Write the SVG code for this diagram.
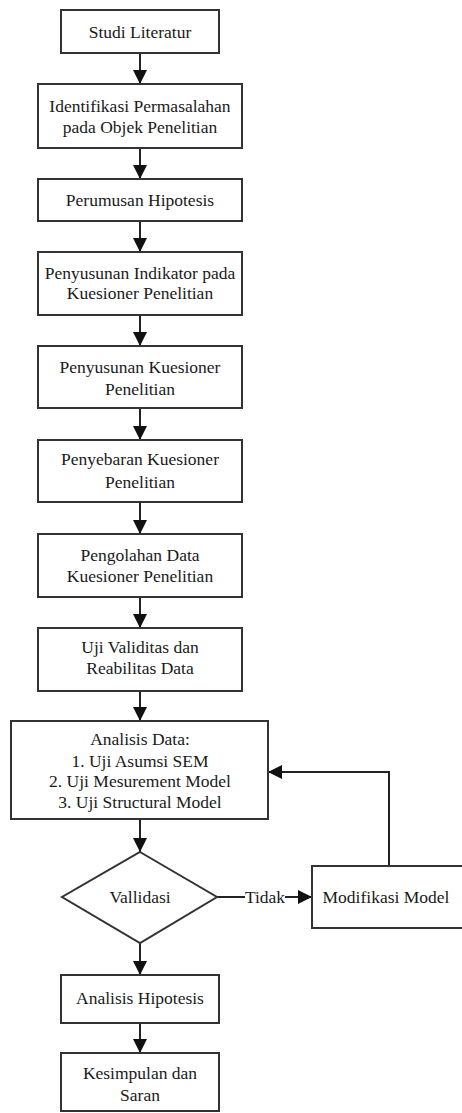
<svg xmlns="http://www.w3.org/2000/svg" width="462" height="1113" viewBox="0 0 462 1113">
<style>
.box{fill:#fff;stroke:#333;stroke-width:2}
.t{font-family:'Liberation Serif','Times New Roman','DejaVu Serif',serif;font-size:17.5px;fill:#1a1a1a;text-anchor:middle}
.c{fill:none;stroke:#222;stroke-width:2}
</style>
<defs>
<marker id="ah" markerUnits="userSpaceOnUse" markerWidth="14" markerHeight="16" viewBox="0 0 14 16" refX="14" refY="8" orient="auto">
<path d="M0,1 L14,8 L0,15 Z" fill="#111"/>
</marker>
</defs>
<rect width="462" height="1113" fill="#fff"/>
<g id="connectors">
<line class="c" x1="140" y1="53" x2="140" y2="84" marker-end="url(#ah)"/>
<line class="c" x1="140" y1="148" x2="140" y2="179" marker-end="url(#ah)"/>
<line class="c" x1="140" y1="221" x2="140" y2="252" marker-end="url(#ah)"/>
<line class="c" x1="140" y1="315" x2="140" y2="346" marker-end="url(#ah)"/>
<line class="c" x1="140" y1="408" x2="140" y2="440" marker-end="url(#ah)"/>
<line class="c" x1="140" y1="502" x2="140" y2="534" marker-end="url(#ah)"/>
<line class="c" x1="140" y1="597" x2="140" y2="628" marker-end="url(#ah)"/>
<line class="c" x1="140" y1="691" x2="140" y2="721" marker-end="url(#ah)"/>
<line class="c" x1="140" y1="819" x2="140" y2="852" marker-end="url(#ah)"/>
<line class="c" x1="140" y1="943" x2="140" y2="975" marker-end="url(#ah)"/>
<line class="c" x1="140" y1="1023" x2="140" y2="1053" marker-end="url(#ah)"/>
<line class="c" x1="217" y1="897" x2="245" y2="897"/>
<line class="c" x1="285" y1="897" x2="312" y2="897" marker-end="url(#ah)"/>
<text class="t" x="265" y="903" font-family="Liberation Serif, serif">Tidak</text>
<polyline class="c" points="389,866 389,772 268,772" marker-end="url(#ah)"/>
</g>
<g font-family="Liberation Serif, serif">
<g id="n1"><rect class="box" x="61" y="10" width="158" height="43"/><text class="t" x="140" y="38">Studi Literatur</text></g>
<g id="n2"><rect class="box" x="38" y="84" width="204" height="64"/><text class="t" x="140" y="112">Identifikasi Permasalahan</text><text class="t" x="140" y="133">pada Objek Penelitian</text></g>
<g id="n3"><rect class="box" x="38" y="179" width="204" height="42"/><text class="t" x="140" y="206">Perumusan Hipotesis</text></g>
<g id="n4"><rect class="box" x="38" y="252" width="204" height="63"/><text class="t" x="140" y="279">Penyusunan Indikator pada</text><text class="t" x="140" y="299">Kuesioner Penelitian</text></g>
<g id="n5"><rect class="box" x="38" y="346" width="204" height="62"/><text class="t" x="140" y="373">Penyusunan Kuesioner</text><text class="t" x="140" y="395">Penelitian</text></g>
<g id="n6"><rect class="box" x="38" y="440" width="204" height="62"/><text class="t" x="140" y="465">Penyebaran Kuesioner</text><text class="t" x="140" y="488">Penelitian</text></g>
<g id="n7"><rect class="box" x="38" y="534" width="204" height="63"/><text class="t" x="140" y="561">Pengolahan Data</text><text class="t" x="140" y="582">Kuesioner Penelitian</text></g>
<g id="n8"><rect class="box" x="38" y="628" width="204" height="63"/><text class="t" x="140" y="653">Uji Validitas dan</text><text class="t" x="140" y="674">Reabilitas Data</text></g>
<g id="n9"><rect class="box" x="11" y="721" width="257" height="98"/><text class="t" x="140" y="745">Analisis Data:</text><text class="t" x="140" y="767">1. Uji Asumsi SEM</text><text class="t" x="140" y="787">2. Uji Mesurement Model</text><text class="t" x="140" y="808">3. Uji Structural Model</text></g>
<g id="n10"><polygon class="box" points="140,852 217,897 140,943 62,897"/><text class="t" x="140" y="903">Vallidasi</text></g>
<g id="n11"><rect class="box" x="312" y="866" width="160" height="62"/><text class="t" x="386" y="903">Modifikasi Model</text></g>
<g id="n12"><rect class="box" x="61" y="975" width="158" height="48"/><text class="t" x="140" y="1004">Analisis Hipotesis</text></g>
<g id="n13"><rect class="box" x="61" y="1053" width="158" height="58"/><text class="t" x="140" y="1079">Kesimpulan dan</text><text class="t" x="140" y="1101">Saran</text></g>
</g>
</svg>
